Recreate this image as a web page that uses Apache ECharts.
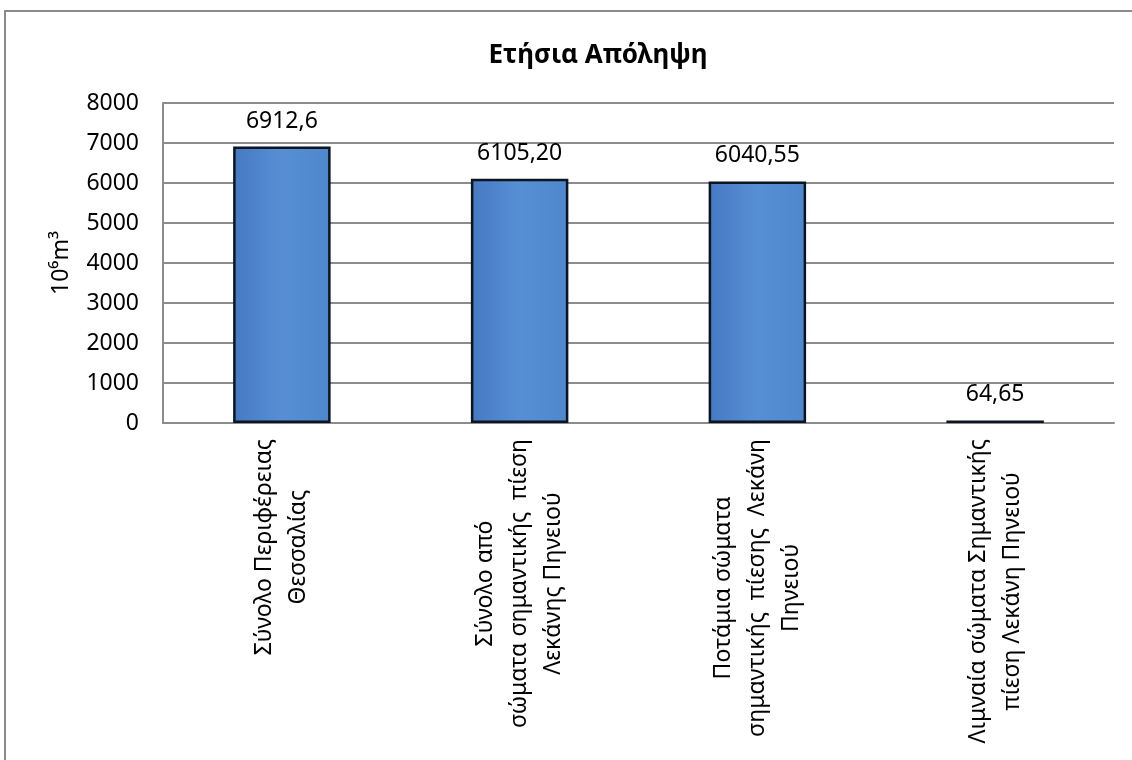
<!DOCTYPE html>
<html>
<head>
<meta charset="utf-8">
<script src="https://cdn.jsdelivr.net/npm/echarts@6/dist/echarts.min.js"></script>
<style>
  html, body { margin: 0; padding: 0; overflow: hidden; background: #fff; }
  #chart { width: 1132px; height: 760px; position: absolute; left: 0; top: 0; }
  #frame { position: absolute; left: 4px; top: 10px; width: 1200px; height: 800px; border: 2px solid #8a8a8a; pointer-events: none; }
</style>
</head>
<body>
<div id="chart"></div>
<div id="frame"></div>
<script>
const title = 'Ετήσια Απόληψη';
const yAxisName = '10⁶m³';
const categories = [
  'Σύνολο Περιφέρειας\nΘεσσαλίας',
  'Σύνολο από\nσώματα σημαντικής  πίεση\nΛεκάνης Πηνειού',
  'Ποτάμια σώματα\nσημαντικής  πίεσης  Λεκάνη\nΠηνειού',
  'Λιμναία σώματα Σημαντικής\nπίεση Λεκάνη Πηνειού'
];
const values = [6912.6, 6105.20, 6040.55, 64.65];
const valueLabels = ['6912,6', '6105,20', '6040,55', '64,65'];
const yMin = 0, yMax = 8000, yInterval = 1000;

const FONT = '"Noto Sans", "Open Sans", sans-serif';
const FS = 23;
const chart = echarts.init(document.getElementById('chart'));
chart.setOption({
  animation: false,
  title: {
    text: title,
    left: 593, top: 38, textAlign: 'center',
    textStyle: { fontFamily: FONT, fontWeight: 'bold', fontSize: 26, color: '#000' }
  },
  grid: { left: 163, right: 18, top: 103, bottom: 337, containLabel: false },
  xAxis: {
    type: 'category',
    data: categories,
    axisLine: { lineStyle: { color: '#8c8c8c', width: 2 } },
    axisTick: { show: false },
    axisLabel: {
      interval: 0, rotate: 90, margin: 16,
      fontFamily: FONT, fontSize: FS, color: '#000',
      formatter: function (v) { return v.split('\n').map(function (l) { return '{c|' + l + '}'; }).join('\n'); },
      rich: { c: { align: 'center', fontFamily: FONT, fontSize: FS, color: '#000', lineHeight: 34 } }
    }
  },
  yAxis: {
    type: 'value', min: yMin, max: yMax, interval: yInterval,
    name: yAxisName, nameLocation: 'middle', nameRotate: 90, nameGap: 90,
    nameTextStyle: { fontFamily: FONT, fontSize: FS, color: '#000' },
    axisLine: { show: true, lineStyle: { color: '#8c8c8c', width: 2 } },
    axisTick: { show: false },
    axisLabel: { margin: 24, fontFamily: FONT, fontSize: FS, color: '#000', formatter: function (v) { return String(v); } },
    splitLine: { lineStyle: { color: '#8c8c8c', width: 2 } }
  },
  series: [{
    type: 'bar',
    data: values,
    barWidth: '41%',
    itemStyle: {
      color: new echarts.graphic.LinearGradient(0, 0, 1, 0, [
        { offset: 0, color: '#4679c2' },
        { offset: 0.5, color: '#578fd4' },
        { offset: 1, color: '#4f87cd' }
      ]),
      borderColor: '#0d1520',
      borderWidth: 2.5
    },
    label: {
      show: true, position: 'top', distance: 14,
      fontFamily: FONT, fontSize: FS, color: '#000',
      formatter: function (p) { return valueLabels[p.dataIndex]; }
    }
  }]
});
</script>
</body>
</html>
